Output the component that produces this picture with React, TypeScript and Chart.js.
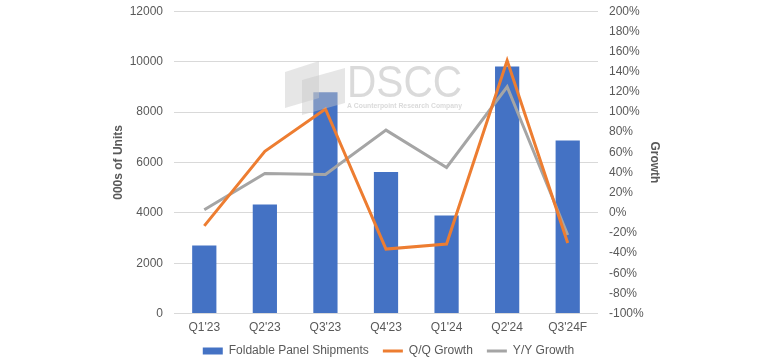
import React, { useEffect, useRef } from "react";
import { Chart, registerables } from "chart.js";

Chart.register(...registerables);

const categories = ["Q1'23", "Q2'23", "Q3'23", "Q4'23", "Q1'24", "Q2'24", "Q3'24F"];
const shipments = [2700, 4330, 8780, 5620, 3890, 9810, 6870];
const qqGrowth = [-13, 61, 103, -36, -31, 151, -30];
const yyGrowth = [3, 39, 38, 82, 45, 125, -22];

const FONT = "'Liberation Sans', Arial, sans-serif";
const TICK = "#595959";

function fitText(ctx: any, text: string, x: number, y: number, w: number) {
  const m = ctx.measureText(text).width;
  ctx.save();
  ctx.translate(x, y);
  ctx.scale(w / m, 1);
  ctx.fillText(text, 0, 0);
  ctx.restore();
}

const watermark = {
  id: "watermark",
  afterDatasetsDraw(chart: any) {
    const ctx = chart.ctx;
    ctx.save();
    ctx.fillStyle = "rgba(200,200,200,0.45)";
    ctx.beginPath();
    ctx.moveTo(285, 72);
    ctx.lineTo(319, 61);
    ctx.lineTo(319, 98);
    ctx.lineTo(285, 108);
    ctx.closePath();
    ctx.fill();
    ctx.beginPath();
    ctx.moveTo(302, 80);
    ctx.lineTo(345, 68);
    ctx.lineTo(345, 103);
    ctx.lineTo(302, 115);
    ctx.closePath();
    ctx.fill();
    ctx.fillStyle = "rgba(205,205,205,0.75)";
    ctx.textBaseline = "alphabetic";
    ctx.font = "44px " + FONT;
    fitText(ctx, "DSCC", 347, 97, 115);
    ctx.font = "bold 8px " + FONT;
    fitText(ctx, "A Counterpoint Research Company", 347, 108, 115);
    ctx.restore();
  },
};

const legendShift = {
  id: "legendShift",
  afterLayout(chart: any) {
    const l = chart.legend;
    if (l) {
      l.top -= 11;
      l.bottom -= 11;
    }
  },
};

export default function App() {
  const ref = useRef<HTMLCanvasElement | null>(null);
  useEffect(() => {
    if (!ref.current) return;
    const chart = new Chart(ref.current, {
      type: "bar",
      data: {
        labels: categories,
        datasets: [
          {
            type: "bar",
            label: "Foldable Panel Shipments",
            data: shipments,
            backgroundColor: "#4472C4",
            borderColor: "#4472C4",
            borderWidth: 0,
            yAxisID: "y",
            order: 3,
            barPercentage: 0.4,
            categoryPercentage: 1,
            pointStyle: "rect",
          } as any,
          {
            type: "line",
            label: "Q/Q Growth",
            data: qqGrowth,
            borderColor: "#ED7D31",
            backgroundColor: "#ED7D31",
            borderWidth: 3,
            pointRadius: 0,
            tension: 0,
            yAxisID: "y1",
            order: 1,
            pointStyle: "line",
          } as any,
          {
            type: "line",
            label: "Y/Y Growth",
            data: yyGrowth,
            borderColor: "#A5A5A5",
            backgroundColor: "#A5A5A5",
            borderWidth: 3,
            pointRadius: 0,
            tension: 0,
            yAxisID: "y1",
            order: 2,
            pointStyle: "line",
          } as any,
        ],
      },
      options: {
        responsive: false,
        animation: false,
        layout: { padding: { left: 111, right: 104, top: 0, bottom: -18 } },
        plugins: {
          tooltip: { enabled: false },
          legend: {
            position: "bottom",
            labels: {
              usePointStyle: true,
              pointStyleWidth: 20,
              boxHeight: 7,
              color: TICK,
              font: { family: FONT, size: 12 },
              padding: 14,
              sort: (a: any, b: any) => a.datasetIndex - b.datasetIndex,
            },
          },
        },
        scales: {
          x: {
            grid: { display: false, drawTicks: false },
            border: { display: false },
            ticks: { color: TICK, font: { family: FONT, size: 12 }, padding: 7 },
          },
          y: {
            position: "left",
            min: 0,
            max: 12000,
            afterFit: (s: any) => {
              s.width = 63;
            },
            ticks: {
              stepSize: 2000,
              color: TICK,
              font: { family: FONT, size: 12 },
              padding: 4,
              callback: (v: any) => String(v),
            },
            grid: { color: "#D9D9D9", drawTicks: true, tickLength: 7, tickColor: "rgba(0,0,0,0)" },
            border: { display: false },
            title: {
              display: true,
              text: "000s of Units",
              color: TICK,
              font: { family: FONT, size: 12, weight: "bold" },
              padding: { top: 0, bottom: 4 },
            },
          },
          y1: {
            position: "right",
            min: -100,
            max: 200,
            afterFit: (s: any) => {
              s.width = 68;
            },
            ticks: {
              stepSize: 20,
              color: TICK,
              font: { family: FONT, size: 12 },
              padding: 4,
              callback: (v: any) => v + "%",
            },
            grid: {
              display: true,
              color: "rgba(0,0,0,0)",
              drawOnChartArea: false,
              drawTicks: true,
              tickLength: 7,
              tickColor: "rgba(0,0,0,0)",
            },
            border: { display: false },
            title: {
              display: true,
              text: "Growth",
              color: TICK,
              font: { family: FONT, size: 12, weight: "bold" },
            },
          },
        },
      },
      plugins: [watermark, legendShift],
    } as any);
    return () => chart.destroy();
  }, []);
  return (
    <div style={{ position: "absolute", left: 0, top: 0, width: 770, height: 360, background: "#fff" }}>
      <canvas ref={ref} width={770} height={360} />
    </div>
  );
}
